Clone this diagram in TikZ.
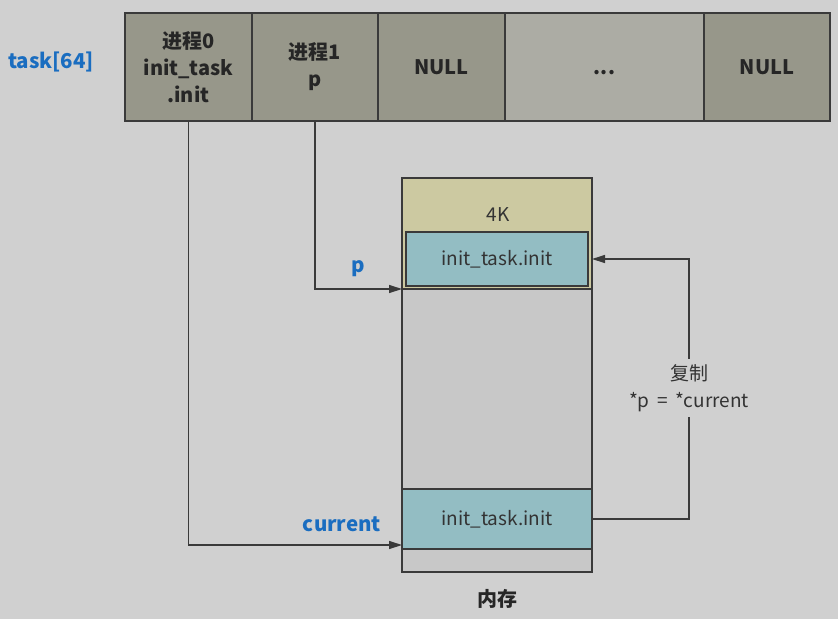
\documentclass[tikz,border=0pt]{standalone}
\usepackage{fontspec}
\setmainfont{Noto Sans CJK SC}
\usetikzlibrary{arrows.meta,positioning}

\definecolor{bgGray}{HTML}{D0D0D0}
\definecolor{cellDark}{HTML}{97978A}
\definecolor{cellLight}{HTML}{ACACA4}
\definecolor{khaki}{HTML}{CCC9A1}
\definecolor{tealBox}{HTML}{93BDC3}
\definecolor{memGray}{HTML}{C8C8C8}
\definecolor{lineDark}{HTML}{3A3A3A}
\definecolor{ptrBlue}{HTML}{1A6DC0}

\tikzset{
  cell/.style={draw=lineDark, line width=1.3pt, fill=cellDark, minimum height=108pt,
    inner sep=0pt, outer sep=0pt, align=center, text=black!85,
    font=\bfseries\fontsize{20}{27}\selectfont},
  block/.style={draw=lineDark, line width=1.3pt, inner sep=0pt, outer sep=0pt,
    anchor=north west},
  ptr/.style={text=ptrBlue, font=\bfseries\fontsize{20.5}{22}\selectfont},
  link/.style={draw=lineDark, line width=1.3pt, -{Triangle[length=13pt,width=8pt]}},
  plain/.style={text=black!80, font=\fontsize{19}{27}\selectfont}
}

\begin{document}
\begin{tikzpicture}[x=1pt,y=-1pt]
  % Canvas with the reference margins
  \fill[bgGray] (0,0) rectangle (838,619);
  \useasboundingbox (0,0) rectangle (838,619);

  % The task[64] array
  \node[ptr] (taskLbl) at (51,62) {task[64]};
  \node[cell, minimum width=127pt, anchor=north west] (c0) at (125,13) {进程0\\init\_task\\.init};
  \node[cell, minimum width=126pt, right=0pt of c0] (c1) {进程1\\p};
  \node[cell, minimum width=127pt, right=0pt of c1] (c2) {NULL};
  \node[cell, minimum width=199pt, fill=cellLight, right=0pt of c2] (c3) {\vphantom{NULL}...};
  \node[cell, minimum width=126pt, right=0pt of c3] (c4) {NULL};

  % The 4K memory page
  \node[block, fill=memGray, minimum width=190pt, minimum height=394pt] (mem) at (402,178) {};
  \node[block, fill=khaki, minimum width=190pt, minimum height=111pt] (topArea) at (402,178) {};
  \node[plain] (sizeLbl) at (498,215) {4K};
  \node[block, fill=tealBox, minimum width=182pt, minimum height=54pt, plain] (initBox) at (406,232) {init\_task.init};
  \node[block, fill=tealBox, minimum width=190pt, minimum height=60pt, plain] (curBox) at (402,489) {init\_task.init};
  \node[font=\bfseries\fontsize{20}{22}\selectfont, text=black!85] (memLbl) at (497,599) {内存};

  % Pointers into the page
  \node[ptr] (pLbl) at (358,269) {p};
  \node[ptr] (curLbl) at (342,524) {current};
  \draw[link] (c1.south) |- (topArea.south west);
  \draw[link] (c0.south) |- ([yshift=4pt]curBox.south west);

  % Copy from current to p
  \node[plain, align=center, minimum height=58pt, inner sep=0pt] (copyLbl) at (689,388) {复制\\*p \,=\, *current};
  \draw[draw=lineDark, line width=1.3pt] (curBox.east) -| (copyLbl.south);
  \draw[link] (copyLbl.north) |- (mem.east |- initBox.east);
\end{tikzpicture}
\end{document}
